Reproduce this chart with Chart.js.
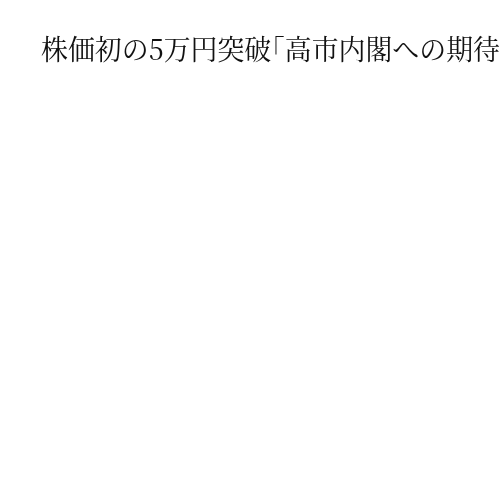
<!DOCTYPE html>
<html>
<head>
<meta charset="utf-8">
<script src="https://cdn.jsdelivr.net/npm/chart.js@4"></script>
<style>
  html, body { margin: 0; padding: 0; background: #fff; }
  #wrap { width: 500px; height: 500px; }
</style>
</head>
<body>
<div id="wrap"><canvas id="myChart"></canvas></div>
<script>
// the reference shows only the title (cut off at the right edge), no marks are drawn
var titleText = '株価初の5万円突破｢高市内閣への期待';
var categories = [];
var values = [];

var ctx = document.getElementById('myChart');
var myChart = new Chart(ctx, {
    type: 'bar',
    data: {
        labels: categories,
        datasets: [{
            data: values,
            backgroundColor: '#4e79a7'
        }]
    },
    options: {
        responsive: true,
        maintainAspectRatio: false,
        animation: false,
        layout: { padding: { left: 41, top: 0, right: 0, bottom: 0 } },
        scales: {
            x: { display: false },
            y: { display: false }
        },
        plugins: {
            legend: { display: false },
            tooltip: { enabled: false },
            title: {
                display: true,
                text: titleText,
                align: 'start',
                color: '#111',
                font: { family: '"Noto Serif CJK JP", "Noto Sans CJK JP", serif', size: 28, weight: 'normal' },
                padding: { top: 33, bottom: 10 }
            }
        }
    }
});
</script>
</body>
</html>
